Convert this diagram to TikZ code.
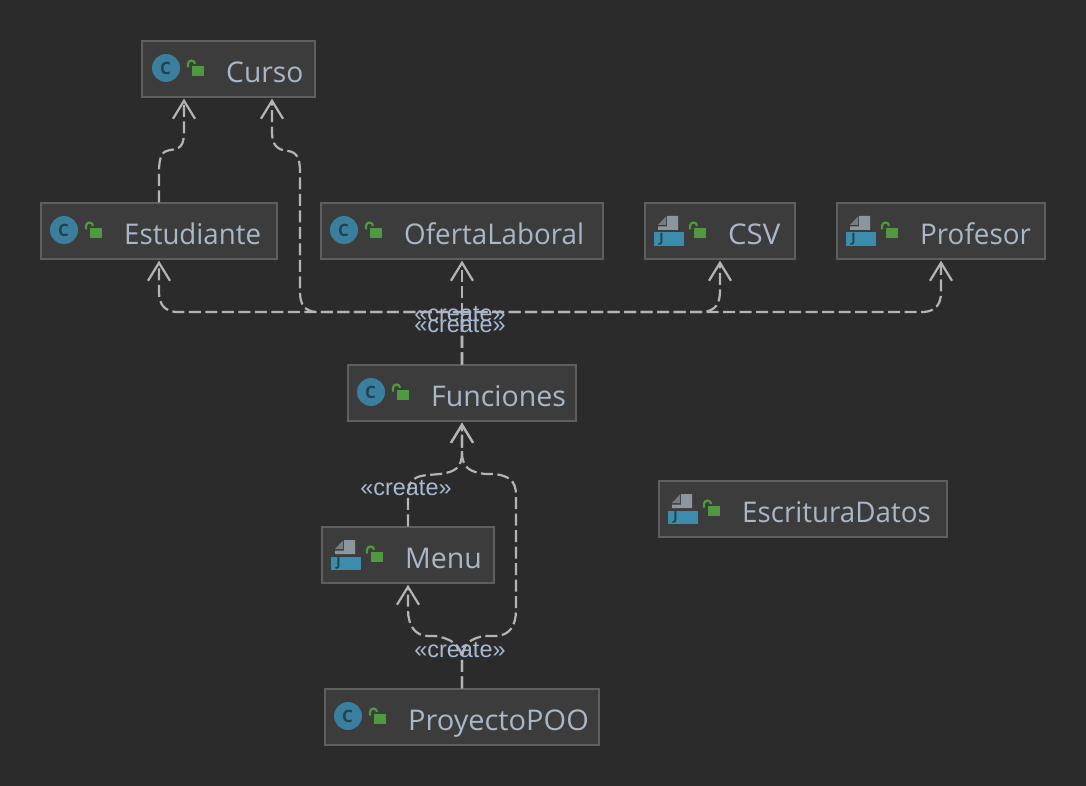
\documentclass[tikz,border=0pt]{standalone}
\usepackage{graphicx}
\usepackage{fontspec}
\setmainfont{Open Sans}
\newfontfamily\labelfont{Liberation Sans}
\usetikzlibrary{arrows.meta}
\definecolor{bgc}{HTML}{2B2B2B}
\definecolor{boxc}{HTML}{3C3C3C}
\definecolor{edgec}{HTML}{5F5F5F}
\definecolor{linec}{HTML}{B4B4B4}
\definecolor{textc}{HTML}{A9B7C6}
\definecolor{labc}{HTML}{A8BAD2}
\definecolor{bluec}{HTML}{3A7F9E}
\definecolor{bandc}{HTML}{3C8CAD}
\definecolor{darkc}{HTML}{23404F}
\definecolor{grayc}{HTML}{8D969E}
\definecolor{foldc}{HTML}{787C80}
\definecolor{lockc}{HTML}{4F9A3E}
\tikzset{
  x=1pt,y=-1pt,
  umlbox/.style={draw=edgec,fill=boxc,line width=1.3pt,inner sep=0pt,minimum height=56pt},
  umltext/.style={anchor=base west,inner sep=0pt,text=textc,font=\fontsize{28.5}{30}\selectfont},
  stereo/.style={inner sep=0pt,text=labc,font=\labelfont\fontsize{23.4}{25}\selectfont},
  dep/.style={draw=linec,line width=2.2pt,dash pattern=on 12pt off 4.5pt,
    -{Straight Barb[length=18pt,width=22pt,line width=2.2pt]}},
  iconletter/.style={inner sep=0pt,text=darkc,font=\bfseries\fontsize{17}{20}\selectfont},
}
\newcommand{\lockicon}[2]{% left of square, top of box
  \fill[lockc] (#1,#2+25) rectangle (#1+12,#2+35);
  \draw[lockc,line width=2.2pt] (#1-4,#2+26.5) -- (#1-4,#2+23) arc[start angle=180,end angle=0,x radius=3.5,y radius=-3.5];
}
\newcommand{\classicon}[3]{% name, box left, box top
  \fill[bluec] (#2+24,#3+27) circle[radius=14];
  \node[iconletter] (#1c) at (#2+23.5,#3+27) {C};
  \lockicon{#2+50}{#3}
}
\newcommand{\javaicon}[3]{% name, box left, box top
  \fill[grayc] (#2+26,#3+13) -- (#2+37,#3+13) -- (#2+37,#3+27) -- (#2+17,#3+27) -- (#2+17,#3+23.5) -- (#2+26,#3+23.5) -- cycle;
  \fill[foldc] (#2+17,#3+22) -- (#2+25,#3+13.5) -- (#2+25,#3+22) -- cycle;
  \fill[bandc] (#2+13,#3+29.5) rectangle (#2+43,#3+43);
  \node[iconletter,font=\bfseries\fontsize{13}{15}\selectfont] (#1j) at (#2+20.5,#3+36) {J};
  \lockicon{#2+53}{#3}
}
\newcommand{\stx}[2]{\scalebox{#1}[1]{#2}}
\begin{document}
\begin{tikzpicture}
\useasboundingbox[fill=bgc] (0,0) rectangle (1086,786);

\node[umlbox,minimum width=173pt] (curso) at (228.5,69) {};
\node[umlbox,minimum width=236pt] (estudiante) at (159,231) {};
\node[umlbox,minimum width=282pt] (oferta) at (462,231) {};
\node[umlbox,minimum width=150pt] (csv) at (720,231) {};
\node[umlbox,minimum width=208pt] (profesor) at (941,231) {};
\node[umlbox,minimum width=228pt] (funciones) at (462,393) {};
\node[umlbox,minimum width=172pt] (menu) at (408,555) {};
\node[umlbox,minimum width=288pt] (escritura) at (803,509) {};
\node[umlbox,minimum width=274pt] (proyecto) at (462,717) {};

\classicon{curso}{142}{41}
\classicon{estudiante}{40}{203}
\classicon{oferta}{320}{203}
\javaicon{csv}{641}{203}
\javaicon{profesor}{833}{203}
\classicon{funciones}{347}{365}
\javaicon{menu}{318}{527}
\javaicon{escritura}{655}{481}
\classicon{proyecto}{324}{689}

\node[umltext] (cursot) at (226,82.5) {\stx{0.99}{Curso}};
\node[umltext] (estudiantet) at (124,244) {\stx{0.97}{Estudiante}};
\node[umltext] (ofertat) at (404,244) {\stx{0.973}{OfertaLaboral}};
\node[umltext] (csvt) at (728,244) {\stx{1.03}{CSV}};
\node[umltext] (profesort) at (920,244) {\stx{0.975}{Profesor}};
\node[umltext] (funcionest) at (431,406) {Funciones};
\node[umltext] (menut) at (405,568) {Menu};
\node[umltext] (escriturat) at (742,522) {\stx{0.973}{EscrituraDatos}};
\node[umltext] (proyectot) at (408,730) {\stx{1.017}{ProyectoPOO}};

% connectors
\draw[dep] (estudiante.north) -- (159,172) .. controls (159,155) and (163,151) .. (170,150) .. controls (180,149) and (184,146) .. (184,132) -- ([xshift=-44.5pt,yshift=-1pt]curso.south);
\draw[dep] (funciones.north) -- (462,312) -- (316,312) .. controls (305,311) and (300,305) .. (300,292) -- (300,172) .. controls (300,157) and (296,152) .. (288,151) .. controls (278,150) and (272,146) .. (272,132) -- ([xshift=43.5pt,yshift=-1pt]curso.south);
\draw[dep] (funciones.north) -- (462,312) -- (176,312) .. controls (165,311) and (159,305) .. (159,292) -- ([yshift=-1pt]estudiante.south);
\draw[dep] (funciones.north) -- ([yshift=-1pt]oferta.south);
\draw[dep] (funciones.north) -- (462,312) -- (704,312) .. controls (716,310) and (720,304) .. (720,290) -- ([yshift=-1pt]csv.south);
\draw[dep] (funciones.north) -- (462,312) -- (924,312) .. controls (935,311) and (941,305) .. (941,292) -- ([yshift=-1pt]profesor.south);
\draw[dep] (menu.north) -- (408,495) .. controls (408,480) and (415,476) .. (428,475) -- (440,474) .. controls (455,472) and (462,468) .. (462,452) -- ([yshift=-1pt]funciones.south);
\draw[dep] (proyecto.north) -- (462,660) .. controls (462,645) and (470,638) .. (485,636) -- (495,636) .. controls (510,636) and (516,625) .. (516,610) -- (516,495) .. controls (516,480) and (508,476) .. (495,474) -- (485,474) .. controls (470,472) and (462,468) .. (462,452) -- ([yshift=-1pt]funciones.south);
\draw[dep] (proyecto.north) -- (462,660) .. controls (462,645) and (450,638) .. (435,636) -- (428,636) .. controls (415,636) and (408,625) .. (408,610) -- ([yshift=-1pt]menu.south);

\node[stereo] (c1) at (460,314) {«create»};
\node[stereo] (c2) at (460,325.5) {«create»};
\node[stereo] (c3) at (406,488) {«create»};
\node[stereo] (c4) at (460,650) {«create»};
\end{tikzpicture}
\end{document}
